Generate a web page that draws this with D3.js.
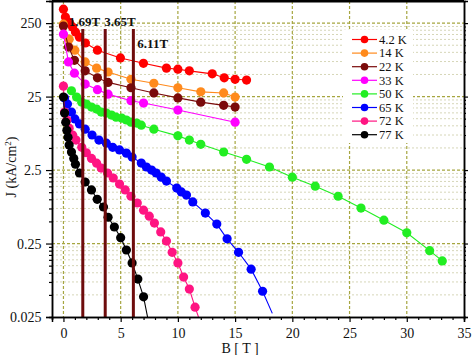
<!DOCTYPE html>
<html><head><meta charset="utf-8">
<script src="https://cdn.jsdelivr.net/npm/d3@7"></script>
<style>body{margin:0;background:#fff}</style>
</head><body><svg id="c" width="474" height="355"></svg>
<script>
// ---------- data ----------
const seriesNames = ["4.2 K","14 K","22 K","33 K","50 K","65 K","72 K","77 K"];
const seriesColors = ["#ff0000","#ff8a1c","#7a0a0a","#ff00ff","#22ee22","#0000ff","#ff1482","#000000"];

const B_4_2 = [0,0.17,0.52,0.79,1.05,1.4,1.92,2.97,4.98,6.99,9.0,10.0,11.0,13.0,14.05,15.0,16.0];
const J_4_2 = [387,302,257,221,189,161,134,107,84,71,61,59,56,51,45,43,42];

const B_14 = [0,0.5,1.0,1.9,2.9,3.9,5.9,7.9,10,12,14,15];
const J_14 = [242,151,107,74,61,54,43,38,33,29,28,24.6];

const B_22 = [0,0.44,0.96,1.9,2.97,3.9,5.9,7.9,10,12,14,15];
const J_22 = [228,118,78,56,45,39,33,28,24,21,19,18];

const B_33 = [0,0.44,0.96,1.9,2.97,3.9,5.9,7.0,10,15];
const J_33 = [177,74,52,37,31,27,22,20.4,16.4,11.2];

const B_50 = [0.7,1.15,1.6,2.0,2.45,2.9,3.3,3.75,4.2,4.6,5.1,5.5,5.9,6.4,6.8,7.9,10,11,12,14,16,18,20,22,24,26,28,30,32,33.1];
const J_50 = [30,24.6,21.0,19.8,18.0,16.9,15.4,14.9,14.0,13.1,12.7,12.0,11.2,10.9,10.2,9.0,7.3,6.4,5.6,4.4,3.5,2.75,2.0,1.51,1.1,0.76,0.52,0.35,0.20,0.145];

const B_65 = [0.1,0.35,0.7,1.0,1.4,1.9,2.5,3.1,3.75,4.3,4.9,5.5,6.0,6.8,7.25,7.7,8.1,8.55,9.0,9.9,10.3,10.75,11.3,12.4,13.4,14.3,15.3,16.4,17.4];
const J_65 = [23.9,19.8,15.4,12.4,10.6,9.0,7.5,6.4,5.8,5.1,4.7,4.25,3.76,3.11,2.75,2.5,2.28,2.0,1.77,1.42,1.26,1.14,0.92,0.65,0.46,0.29,0.19,0.112,0.056];

const B_72 = [0,0.1,0.3,0.5,0.8,1.1,1.6,2.0,2.45,2.9,3.3,3.85,4.35,4.9,5.4,5.9,6.45,7.0,7.5,7.95,8.5,9.0,9.5,10.0,10.5,11.0,11.5];
const J_72 = [34.7,15.4,12.0,9.3,7.5,6.4,5.1,4.3,3.6,3.1,2.66,2.28,1.95,1.61,1.34,1.1,0.89,0.71,0.59,0.475,0.36,0.27,0.19,0.136,0.0875,0.060,0.034];

const B_77 = [0,0.1,0.2,0.3,0.4,0.5,0.7,0.9,1.05,1.4,1.9,2.45,2.95,3.5,3.9,4.45,5.0,5.5,6.0,6.5,7.0];
const J_77 = [24.6,14.9,11.2,8.7,7.0,5.5,4.4,3.6,3.0,2.28,1.72,1.34,1.0,0.785,0.57,0.42,0.30,0.204,0.136,0.082,0.047];

// fitted-curve end points (line only, no marker); null = none
const tailB = [null,null,null,null,null,18.25,11.8,7.35];
const tailJ = [null,null,null,null,null,0.028,0.025,0.025];

const xTicks = [0,5,10,15,20,25,30,35];
const yTicks = [0.025,0.25,2.5,25,250];
const yTickLabels = ["0.025","0.25","2.5","25","250"];
const fieldLines = [1.69,3.65,6.11];
const fieldLabels = ["1.69T","3.65T","6.11T"];

const allB = [B_4_2,B_14,B_22,B_33,B_50,B_65,B_72,B_77];
const allJ = [J_4_2,J_14,J_22,J_33,J_50,J_65,J_72,J_77];

// ---------- layout ----------
const L = 52, R = 464, T = 1, Bot = 317;
const svg = d3.select("#c");
svg.append("rect").attr("width",474).attr("height",355).attr("fill","#fff");

const x = d3.scaleLinear().domain([-1,35]).range([L,R]);
const y = d3.scaleLog().domain([0.025,500]).range([Bot,T]);

const minorY = [];
yTicks.forEach(t => { for (let m=2;m<=9;m++){ const v=t*m; if (v<=500.001) minorY.push(v);} });
const minorX = d3.range(-1,36,1).filter(v => v%5!==0);

const font = "'Liberation Serif','Times New Roman',serif";

// grid
const g = svg.append("g");
g.selectAll(".mgy").data(minorY).join("line")
  .attr("x1",L).attr("x2",R).attr("y1",d=>y(d)).attr("y2",d=>y(d))
  .attr("stroke","#d6d6b8").attr("stroke-width",1).attr("stroke-dasharray","2,2");
g.selectAll(".Mgy").data(yTicks.slice(1)).join("line")
  .attr("x1",L).attr("x2",R).attr("y1",d=>y(d)).attr("y2",d=>y(d))
  .attr("stroke","#a6a640").attr("stroke-width",1.2).attr("stroke-dasharray","3,2");
g.selectAll(".Mgx").data(xTicks.filter(v=>v<35)).join("line")
  .attr("x1",d=>x(d)).attr("x2",d=>x(d)).attr("y1",T).attr("y2",Bot)
  .attr("stroke","#a6a640").attr("stroke-width",1.2).attr("stroke-dasharray","3,2");

// clip
svg.append("clipPath").attr("id","clip").append("rect")
  .attr("x",L).attr("y",T).attr("width",R-L).attr("height",Bot-T);

const plot = svg.append("g").attr("clip-path","url(#clip)");
const line = d3.line().x(d=>x(d[0])).y(d=>y(d[1]));

allB.forEach((bs,i) => {
  const pts = bs.map((b,k)=>[b, allJ[i][k]]);
  const lp = pts.slice();
  if (tailB[i]!==null) lp.push([tailB[i], tailJ[i]]);
  plot.append("path").attr("d",line(lp)).attr("fill","none")
    .attr("stroke",seriesColors[i]).attr("stroke-width",1.1);
  plot.selectAll(null).data(pts).join("circle")
    .attr("cx",d=>x(d[0])).attr("cy",d=>y(d[1])).attr("r",4.6)
    .attr("fill",seriesColors[i]);
});

// field lines
plot.selectAll(".fl").data(fieldLines).join("line")
  .attr("x1",d=>x(d)).attr("x2",d=>x(d)).attr("y1",29).attr("y2",Bot)
  .attr("stroke","#6e0c0c").attr("stroke-width",3);
const labelPos = [[-14,26],[-1,26],[4,48]];
svg.selectAll(".flt").data(fieldLabels).join("text")
  .attr("x",(d,i)=>x(fieldLines[i])+labelPos[i][0]).attr("y",(d,i)=>labelPos[i][1])
  .attr("font-family",font).attr("font-size",13).attr("font-weight","bold")
  .attr("fill","#111").text(d=>d);

// axes
const axG = svg.append("g");
const xAxis = d3.axisBottom(x).tickValues(xTicks).tickSize(5).tickFormat(d3.format("d"));
const xa = axG.append("g").attr("transform",`translate(0,${Bot})`).call(xAxis);
const xm = axG.append("g").attr("transform",`translate(0,${Bot})`)
  .call(d3.axisBottom(x).tickValues(minorX).tickSize(3).tickFormat(""));
const yAxis = d3.axisLeft(y).tickValues(yTicks).tickSize(6).tickFormat((d,i)=>yTickLabels[i]);
const ya = axG.append("g").attr("transform",`translate(${L},0)`).call(yAxis);
const ym = axG.append("g").attr("transform",`translate(${L},0)`)
  .call(d3.axisLeft(y).tickValues(minorY).tickSize(3).tickFormat(""));
const yr = axG.append("g").attr("transform",`translate(${R},0)`)
  .call(d3.axisRight(y).tickValues(yTicks).tickSize(4).tickFormat(""));
const yrm = axG.append("g").attr("transform",`translate(${R},0)`)
  .call(d3.axisRight(y).tickValues(minorY).tickSize(2).tickFormat(""));
[xa,xm,ya,ym,yr,yrm].forEach(a=>{
  a.select(".domain").attr("stroke","#000").attr("stroke-width",1.5);
  a.selectAll(".tick line").attr("stroke","#000").attr("stroke-width",1.2);
  a.selectAll("text").attr("font-family",font).attr("font-size",14).attr("fill","#111");
});
xa.selectAll("text").attr("dy","0.95em");
ya.selectAll("text").attr("dx","-0.1em");
// top border
svg.append("line").attr("x1",L).attr("x2",R).attr("y1",1).attr("y2",1)
  .attr("stroke","#000").attr("stroke-width",3);

// axis titles
svg.append("text").attr("x",240).attr("y",353).attr("text-anchor","middle")
  .attr("font-family",font).attr("font-size",14).attr("fill","#111").text("B [ T ]");
const yt = svg.append("text").attr("transform","translate(16,167) rotate(-90)")
  .attr("text-anchor","middle").attr("font-family",font).attr("font-size",14).attr("fill","#111");
yt.append("tspan").text("J (kA/cm");
yt.append("tspan").attr("dy",-5).attr("font-size",9).text("2");
yt.append("tspan").attr("dy",5).text(")");

// legend
const lg = svg.append("g");
lg.append("rect").attr("x",343).attr("y",30).attr("width",70).attr("height",113).attr("fill","#fff");
seriesNames.forEach((n,i)=>{
  const yy = 39.5 + i*13.6;
  lg.append("line").attr("x1",352).attr("x2",377).attr("y1",yy).attr("y2",yy)
    .attr("stroke",seriesColors[i]).attr("stroke-width",1.2);
  lg.append("circle").attr("cx",364.5).attr("cy",yy).attr("r",3.8).attr("fill",seriesColors[i]);
  lg.append("text").attr("x",379).attr("y",yy+4.3).attr("font-family",font)
    .attr("font-size",12.5).attr("fill","#111").text(n);
});
</script></body></html>
